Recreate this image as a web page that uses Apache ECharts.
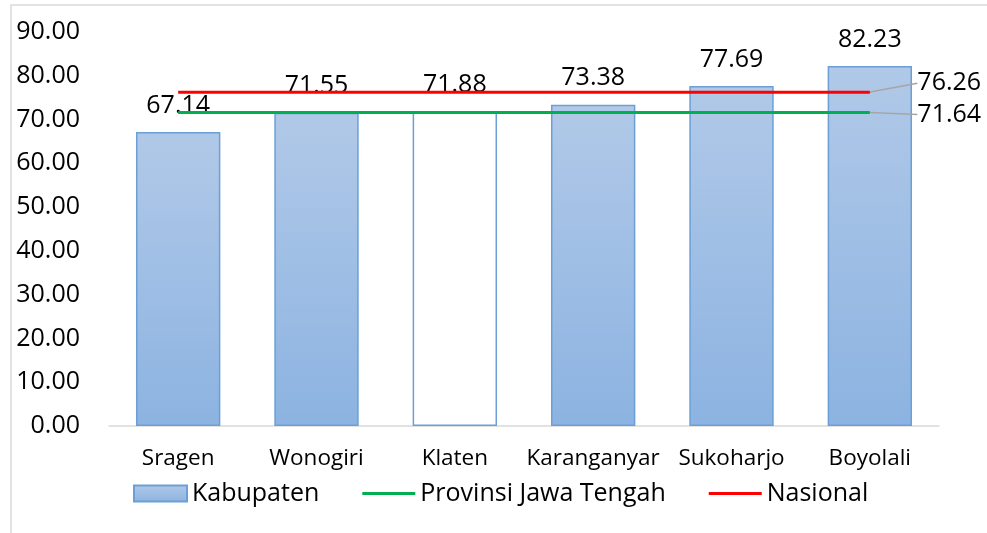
<!DOCTYPE html>
<html>
<head>
<meta charset="utf-8">
<script src="https://cdn.jsdelivr.net/npm/echarts@6/dist/echarts.min.js"></script>
<style>
  html, body { margin: 0; padding: 0; background: #ffffff; }
  #chart { width: 987px; height: 533px; }
</style>
</head>
<body>
<div id="chart"></div>
<script>
// Categories and values
const kabupatenNames = ['Sragen', 'Wonogiri', 'Klaten', 'Karanganyar', 'Sukoharjo', 'Boyolali'];
const kabupatenValues = [67.14, 71.55, 71.88, 73.38, 77.69, 82.23];
const provinsiValue = 71.64;
const nasionalValue = 76.26;
const yTicks = { min: 0, max: 90, interval: 10 };

const FONT = '"Open Sans", "Noto Sans", sans-serif';

const barFill = new echarts.graphic.LinearGradient(0, 0, 0, 1, [
  { offset: 0, color: '#b1c9e8' },
  { offset: 1, color: '#8cb3e1' }
]);

// Klaten is drawn as an outlined bar without fill
const barData = kabupatenValues.map((v, i) => {
  const item = { value: v };
  if (kabupatenNames[i] === 'Klaten') {
    item.itemStyle = { color: '#ffffff' };
  }
  return item;
});

// Reference lines: constant across categories, label only on the last point
function refLine(value) {
  return kabupatenNames.map((_, i) => {
    if (i === kabupatenNames.length - 1) {
      return {
        value: value,
        symbol: 'circle',
        symbolSize: 1,
        label: { show: true }
      };
    }
    return value;
  });
}

const lineIcon = 'path://M0,0 H53 V3 H0 Z';

const chart = echarts.init(document.getElementById('chart'), null, { renderer: 'canvas' });

chart.setOption({
  animation: false,
  backgroundColor: '#ffffff',
  textStyle: { fontFamily: FONT },
  graphic: [{
    type: 'rect',
    shape: { x: 11, y: 5, width: 1000, height: 560 },
    style: { fill: 'none', stroke: '#d9d9d9', lineWidth: 1.5 },
    silent: true,
    z: -1
  }],
  grid: { left: 109, right: 48, top: 32, bottom: 107 },
  legend: {
    bottom: 22,
    left: 128,
    itemGap: 43,
    itemWidth: 53,
    itemHeight: 16,
    symbolKeepAspect: true,
    textStyle: { fontSize: 25, color: '#000000', fontFamily: FONT },
    data: [
      { name: 'Kabupaten', icon: 'rect' },
      { name: 'Provinsi Jawa Tengah', icon: lineIcon },
      { name: 'Nasional', icon: lineIcon }
    ]
  },
  xAxis: {
    type: 'category',
    data: kabupatenNames,
    axisLine: { show: true, lineStyle: { color: '#d9d9d9', width: 1.5 } },
    axisTick: { show: false },
    axisLabel: { color: '#000000', fontSize: 22.5, margin: 21, fontFamily: FONT, interval: 0 }
  },
  yAxis: {
    type: 'value',
    min: yTicks.min,
    max: yTicks.max,
    interval: yTicks.interval,
    axisLine: { show: false },
    axisTick: { show: false },
    splitLine: { show: false },
    axisLabel: {
      color: '#000000', fontSize: 25, margin: 29, fontFamily: FONT,
      formatter: v => v.toFixed(2)
    }
  },
  series: [
    {
      name: 'Kabupaten',
      type: 'bar',
      data: barData,
      barCategoryGap: '39%',
      itemStyle: { color: barFill, borderColor: '#6b9fd6', borderWidth: 1.5 },
      label: {
        show: true, position: 'top', distance: 14,
        color: '#000000', fontSize: 25, fontFamily: FONT,
        formatter: p => p.value.toFixed(2)
      },
      z: 2
    },
    {
      name: 'Provinsi Jawa Tengah',
      type: 'line',
      data: refLine(provinsiValue),
      symbol: 'none',
      lineStyle: { color: '#00b050', width: 3 },
      itemStyle: { color: '#00b050' },
      label: {
        show: false, position: 'right', distance: 0,
        color: '#000000', fontSize: 25, fontFamily: FONT,
        formatter: p => p.value.toFixed(2)
      },
      labelLine: { show: true, lineStyle: { color: '#a6a6a6', width: 1.5 } },
      labelLayout: { dx: 47, dy: 2 },
      z: 5
    },
    {
      name: 'Nasional',
      type: 'line',
      data: refLine(nasionalValue),
      symbol: 'none',
      lineStyle: { color: '#ff0000', width: 3 },
      itemStyle: { color: '#ff0000' },
      label: {
        show: false, position: 'right', distance: 0,
        color: '#000000', fontSize: 25, fontFamily: FONT,
        formatter: p => p.value.toFixed(2)
      },
      labelLine: { show: true, lineStyle: { color: '#a6a6a6', width: 1.5 } },
      labelLayout: { dx: 47, dy: -9 },
      z: 5
    }
  ]
});
</script>
</body>
</html>
